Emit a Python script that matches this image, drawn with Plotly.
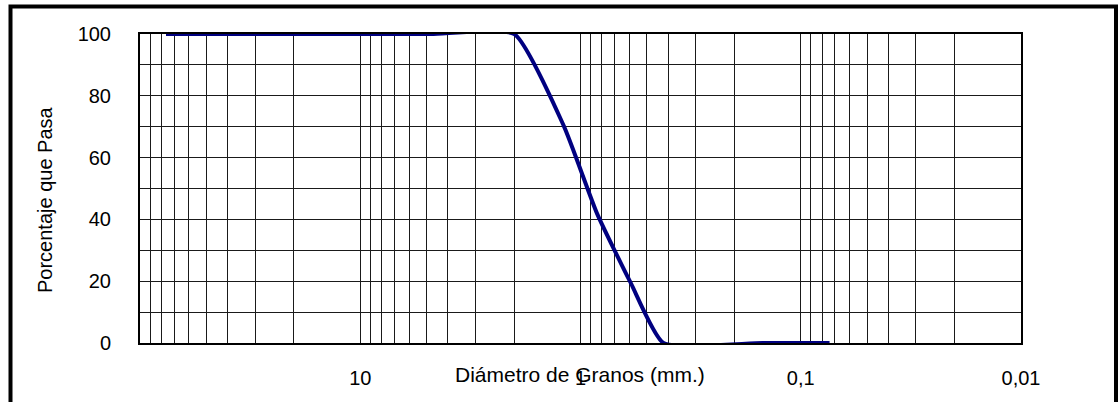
import plotly.graph_objects as go

# --- data ---
diametro_mm = [76.2, 50.8, 38.1, 25.4, 19.05, 12.7, 9.525, 4.76, 2.0, 1.19, 0.84, 0.59, 0.42, 0.149, 0.074]
porcentaje_pasa = [100, 100, 100, 100, 100, 100, 100, 100, 100, 70.2, 41.8, 19.3, 0, 0, 0]

x_decades = [100, 10, 1, 0.1, 0.01]
x_decade_labels = ["", "10", "1", "0,1", "0,01"]
y_grid_vals = [0, 10, 20, 30, 40, 50, 60, 70, 80, 90, 100]
y_tick_text = ["0", "", "20", "", "40", "", "60", "", "80", "", "100"]

# log grid values (1..9 x each decade) with labels only at decades
x_grid_vals = []
x_grid_text = []
for dec in [0.01, 0.1, 1, 10]:
    for m in range(1, 10):
        v = round(m * dec, 6)
        x_grid_vals.append(v)
        if m == 1 and v in x_decades:
            x_grid_text.append(x_decade_labels[x_decades.index(v)])
        else:
            x_grid_text.append("")
x_grid_vals.append(100)
x_grid_text.append("")

FONT = "Liberation Sans, Arial, sans-serif"

fig = go.Figure()
fig.add_trace(go.Scatter(
    x=diametro_mm, y=porcentaje_pasa, mode="lines",
    line=dict(color="#000080", width=4, shape="spline", smoothing=0.5),
    showlegend=False, hoverinfo="x+y",
))

W, H = 1118, 402
L, R, T, B = 140, 97, 34, 59
pw, ph = W - L - R, H - T - B

def px_x(p):
    return (p - L) / pw

def px_y(p):
    return (H - B - p) / ph

fig.update_layout(
    width=W, height=H,
    margin=dict(l=L, r=R, t=T, b=B, pad=0),
    paper_bgcolor="white", plot_bgcolor="white",
    font=dict(family=FONT, size=20, color="black"),
    xaxis=dict(
        type="log", range=[2, -2],
        tickmode="array", tickvals=x_grid_vals, ticktext=x_grid_text,
        ticks="", ticklabelstandoff=16,
        showgrid=True, gridcolor="#1a1a1a", gridwidth=1,
        showline=True, linecolor="black", linewidth=2, mirror=True,
        zeroline=False, layer="below traces",
        tickfont=dict(size=20, family=FONT),
    ),
    yaxis=dict(
        range=[0, 100],
        tickmode="array", tickvals=y_grid_vals, ticktext=y_tick_text,
        ticks="", ticklabelstandoff=23,
        showgrid=True, gridcolor="#1a1a1a", gridwidth=1,
        showline=True, linecolor="black", linewidth=2, mirror=True,
        zeroline=False, layer="below traces",
        tickfont=dict(size=20, family=FONT),
    ),
    annotations=[
        dict(text="Diámetro de Granos (mm.)", xref="paper", yref="paper",
             x=px_x(580), y=px_y(374), xanchor="center", yanchor="middle",
             showarrow=False, font=dict(size=21, family=FONT, color="black")),
        dict(text="Porcentaje que Pasa", xref="paper", yref="paper",
             x=px_x(45), y=px_y(200), xanchor="center", yanchor="middle",
             textangle=-90, showarrow=False,
             font=dict(size=20, family=FONT, color="black")),
    ],
    shapes=[
        dict(type="rect", xref="paper", yref="paper",
             x0=px_x(10.5), x1=px_x(1116), y0=px_y(430), y1=px_y(6.5),
             line=dict(color="black", width=4), fillcolor="rgba(0,0,0,0)",
             layer="above"),
    ],
)

fig.write_html("out.html", config={"displayModeBar": False},
               post_script="document.body.style.margin='0';")
